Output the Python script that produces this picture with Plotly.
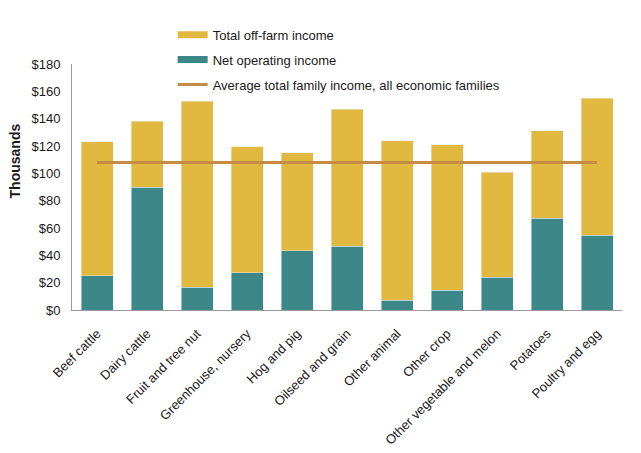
import plotly.graph_objects as go

categories = ["Beef cattle", "Dairy cattle", "Fruit and tree nut", "Greenhouse, nursery",
              "Hog and pig", "Oilseed and grain", "Other animal", "Other crop",
              "Other vegetable and melon", "Potatoes", "Poultry and egg"]
net_operating = [25.2, 90.0, 16.6, 27.4, 43.2, 46.8, 7.2, 14.4, 23.8, 67.0, 54.7]
off_farm = [97.9, 48.2, 136.0, 92.1, 72.0, 100.1, 116.6, 106.6, 77.0, 64.0, 100.1]
avg_family = [108] * len(categories)
y_ticks = [0, 20, 40, 60, 80, 100, 120, 140, 160, 180]
y_tick_labels = ["$" + str(v) for v in y_ticks]

TEAL = "#3C8788"
GOLD = "#E2B93F"
TAN = "#C68B45"

fig = go.Figure()
fig.add_trace(go.Bar(x=categories, y=net_operating, name="Net operating income",
                     marker_color=TEAL, showlegend=False))
fig.add_trace(go.Bar(x=categories, y=off_farm, name="Total off-farm income",
                     marker_color=GOLD, showlegend=False))
fig.add_trace(go.Scatter(x=categories, y=avg_family, mode="lines",
                         name="Average total family income, all economic families",
                         line=dict(color=TAN, width=3), legendrank=3, legendgroup="c"))
# legend swatches for the bars (wide rectangles as in the reference)
fig.add_trace(go.Scatter(x=[None], y=[None], mode="lines", name="Total off-farm income",
                         line=dict(color=GOLD, width=7), legendrank=1, legendgroup="a",
                         hoverinfo="skip"))
fig.add_trace(go.Scatter(x=[None], y=[None], mode="lines", name="Net operating income",
                         line=dict(color=TEAL, width=7), legendrank=2, legendgroup="b",
                         hoverinfo="skip"))

fig.update_layout(
    width=633, height=445,
    barmode="stack", bargap=0.36,
    plot_bgcolor="white", paper_bgcolor="white",
    margin=dict(l=64, r=19, t=52, b=143),
    font=dict(family="Liberation Sans, Arial, sans-serif", size=13, color="#1a1a1a"),
    legend=dict(x=0.183, y=1.18, xanchor="left", yanchor="top", orientation="v",
                bgcolor="rgba(0,0,0,0)", tracegroupgap=5, traceorder="grouped",
                font=dict(size=13)),
    xaxis=dict(showline=True, linecolor="#999999", linewidth=1, tickangle=-45,
               ticks="", showgrid=False, automargin=False, ticklabelstandoff=10),
    yaxis=dict(range=[0, 180], tickvals=y_ticks, ticktext=y_tick_labels,
               showline=True, linecolor="#999999", linewidth=1, showgrid=False,
               ticks="", zeroline=False, automargin=False, ticklabelstandoff=8),
    annotations=[dict(text="<b>Thousands</b>", xref="paper", yref="paper",
                      x=-0.1036, y=0.604, xanchor="center", yanchor="middle",
                      textangle=-90, showarrow=False, font=dict(size=14))],
)

fig.write_html("out.html")
